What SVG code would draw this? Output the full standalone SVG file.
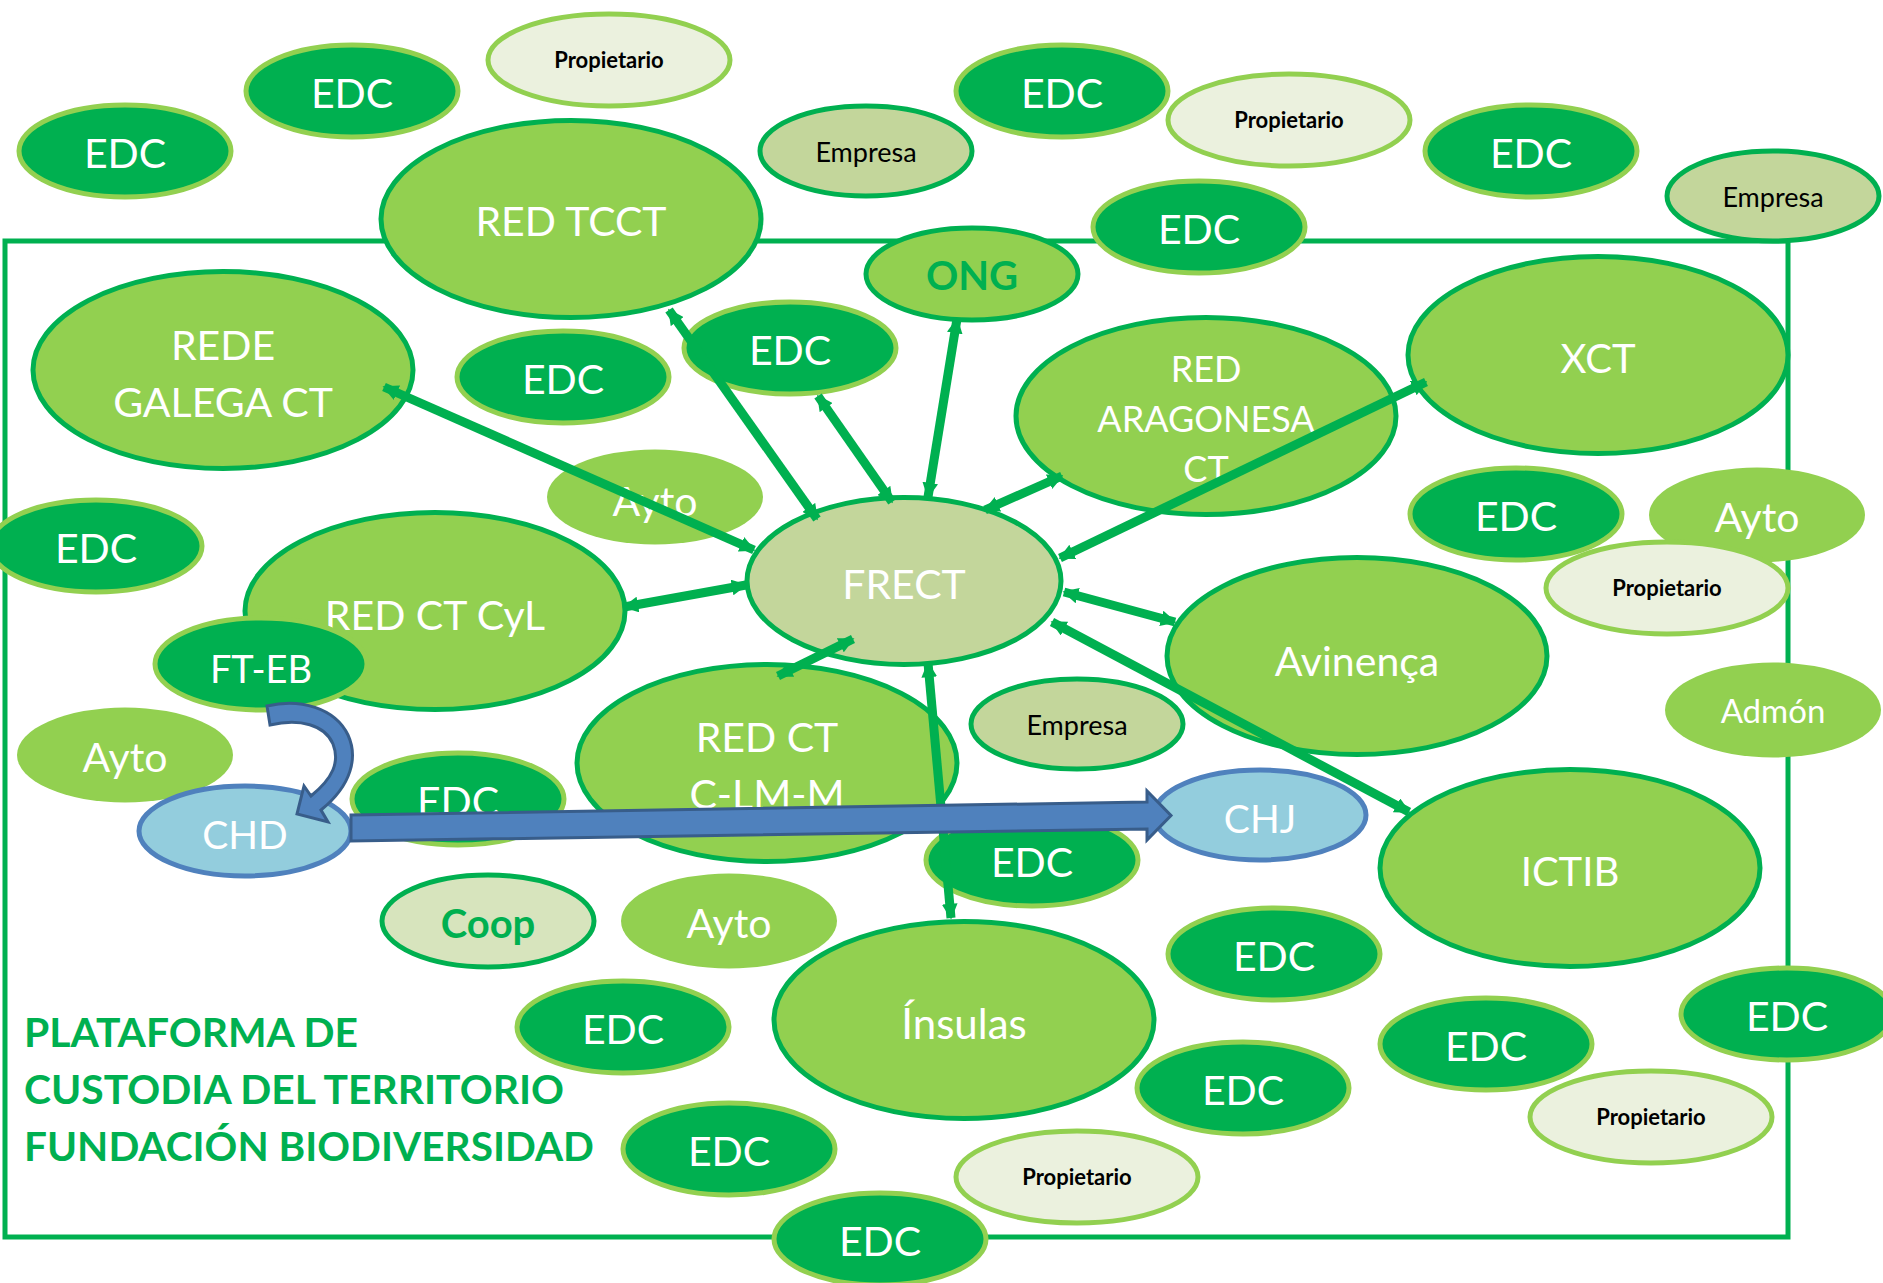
<svg xmlns="http://www.w3.org/2000/svg" width="1883" height="1283" viewBox="0 0 1883 1283">
<defs>
<style>
text{font-family:Lato,"Liberation Sans",sans-serif;text-anchor:middle}
.edc{fill:#00B050;stroke:#92D050;stroke-width:5}
.med{fill:#92D050;stroke:#00B050;stroke-width:5}
.ayto{fill:#92D050;stroke:none}
.prop{fill:#EBF1DE;stroke:#92D050;stroke-width:5}
.emp{fill:#C3D69B;stroke:#00B050;stroke-width:5}
.coop{fill:#D7E4BD;stroke:#00B050;stroke-width:5}
.ch{fill:#93CDDD;stroke:#4F81BD;stroke-width:5}
.w{fill:#FFFFFF;font-size:41px}
.wb{fill:#FFFFFF;font-size:40px}
.pk{fill:#000000;font-size:22px;font-weight:bold}
.ek{fill:#000000;font-size:27px}
.gb{fill:#00B050;font-size:40px;font-weight:bold}
.title{fill:#00B050;font-size:40px;font-weight:bold;text-anchor:start}
.lnk{stroke:#00B050;stroke-width:9;fill:none;marker-start:url(#ah);marker-end:url(#ah)}
.blue{fill:#4F81BD;stroke:#385D8A;stroke-width:3;stroke-linejoin:miter}
</style>
<marker id="ah" viewBox="0 0 10 10" refX="9" refY="5" markerUnits="strokeWidth" markerWidth="1.75" markerHeight="1.75" orient="auto-start-reverse">
<path d="M0,0 L10,5 L0,10 z" fill="#00B050"/>
</marker>
</defs>
<rect x="0" y="0" width="1883" height="1283" fill="#FFFFFF"/>
<rect id="frame" x="5" y="241" width="1783" height="996" fill="none" stroke="#00B050" stroke-width="5"/>

<g id="nodes">
<g id="edc-1"><ellipse class="edc" cx="125" cy="151" rx="106" ry="46"/><text class="w" x="125" y="168">EDC</text></g>
<g id="edc-2"><ellipse class="edc" cx="352" cy="91" rx="106" ry="46"/><text class="w" x="352" y="108">EDC</text></g>
<g id="prop-1"><ellipse class="prop" cx="609" cy="60" rx="121" ry="46"/><text class="pk" x="609" y="68">Propietario</text></g>
<g id="red-tcct"><ellipse class="med" cx="571" cy="219" rx="190" ry="98.5"/><text class="w" x="571" y="236">RED TCCT</text></g>
<g id="empresa-1"><ellipse class="emp" cx="866" cy="151" rx="106" ry="45"/><text class="ek" x="866" y="162">Empresa</text></g>
<g id="edc-3"><ellipse class="edc" cx="1062" cy="91" rx="106" ry="46"/><text class="w" x="1062" y="108">EDC</text></g>
<g id="prop-2"><ellipse class="prop" cx="1289" cy="120" rx="121" ry="46"/><text class="pk" x="1289" y="128">Propietario</text></g>
<g id="edc-4"><ellipse class="edc" cx="1199" cy="227" rx="106" ry="46"/><text class="w" x="1199" y="244">EDC</text></g>
<g id="ong"><ellipse class="med" cx="972" cy="274" rx="106" ry="46"/><text class="gb" x="972" y="290">ONG</text></g>
<g id="edc-5"><ellipse class="edc" cx="1531" cy="151" rx="106" ry="46"/><text class="w" x="1531" y="168">EDC</text></g>
<g id="empresa-2"><ellipse class="emp" cx="1773" cy="196" rx="106" ry="45"/><text class="ek" x="1773" y="207">Empresa</text></g>
<g id="rede-galega"><ellipse class="med" cx="223" cy="370" rx="190" ry="98.5"/><text class="w" x="223" y="360">REDE</text><text class="w" x="223" y="417">GALEGA CT</text></g>
<g id="edc-6"><ellipse class="edc" cx="563" cy="377" rx="106" ry="46"/><text class="w" x="563" y="394">EDC</text></g>
<g id="edc-7"><ellipse class="edc" cx="790" cy="348" rx="106" ry="46"/><text class="w" x="790" y="365">EDC</text></g>
<g id="red-aragonesa"><ellipse class="med" cx="1206" cy="416" rx="190" ry="98.5"/><text class="wb" x="1206" y="382" style="font-size:36px">RED</text><text class="wb" x="1206" y="432" style="font-size:36px">ARAGONESA</text><text class="wb" x="1206" y="482" style="font-size:36px">CT</text></g>
<g id="xct"><ellipse class="med" cx="1598" cy="355" rx="190" ry="98.5"/><text class="wb" x="1598" y="373">XCT</text></g>
<g id="ayto-1"><ellipse class="ayto" cx="655" cy="497" rx="108" ry="47.5"/><text class="w" x="655" y="516">Ayto</text></g>
<g id="edc-8"><ellipse class="edc" cx="96" cy="546" rx="106" ry="46"/><text class="w" x="96" y="563">EDC</text></g>
<g id="red-ct-cyl"><ellipse class="med" cx="435" cy="611" rx="190" ry="98.5"/><text class="w" x="435" y="630">RED CT CyL</text></g>
<g id="frect"><ellipse class="emp" cx="904" cy="581" rx="157" ry="83.5"/><text class="w" x="904" y="599">FRECT</text></g>
<g id="edc-9"><ellipse class="edc" cx="1516" cy="514" rx="106" ry="46"/><text class="w" x="1516" y="531">EDC</text></g>
<g id="ayto-2"><ellipse class="ayto" cx="1757" cy="515" rx="108" ry="47.5"/><text class="w" x="1757" y="532">Ayto</text></g>
<g id="prop-3"><ellipse class="prop" cx="1667" cy="588" rx="121" ry="46"/><text class="pk" x="1667" y="596">Propietario</text></g>
<g id="avinenca"><ellipse class="med" cx="1357" cy="656" rx="190" ry="98.5"/><text class="w" x="1357" y="676">Avinença</text></g>
<g id="admon"><ellipse class="ayto" cx="1773" cy="710" rx="108" ry="47.5"/><text class="w" x="1773" y="723" style="font-size:33px">Admón</text></g>
<g id="ft-eb"><ellipse class="edc" cx="261" cy="664" rx="106" ry="46"/><text class="wb" x="261" y="683" style="font-size:38px">FT-EB</text></g>
<g id="empresa-3"><ellipse class="emp" cx="1077" cy="724" rx="106" ry="45"/><text class="ek" x="1077" y="735">Empresa</text></g>
<g id="red-ct-clmm"><ellipse class="med" cx="767" cy="763" rx="190" ry="98.5"/><text class="w" x="767" y="752">RED CT</text><text class="w" x="767" y="809">C-LM-M</text></g>
<g id="ayto-3"><ellipse class="ayto" cx="125" cy="755" rx="108" ry="47.5"/><text class="w" x="125" y="772">Ayto</text></g>
<g id="edc-10"><ellipse class="edc" cx="458" cy="799" rx="106" ry="46"/><text class="w" x="458" y="816">EDC</text></g>
<g id="chd"><ellipse class="ch" cx="245" cy="831" rx="106" ry="45"/><text class="wb" x="245" y="849" style="font-size:39px">CHD</text></g>
<g id="chj"><ellipse class="ch" cx="1260" cy="815" rx="106" ry="45"/><text class="wb" x="1260" y="833" style="font-size:39px">CHJ</text></g>
<g id="ictib"><ellipse class="med" cx="1570" cy="868" rx="190" ry="98.5"/><text class="wb" x="1570" y="886">ICTIB</text></g>
<g id="edc-11"><ellipse class="edc" cx="1032" cy="860" rx="106" ry="46"/><text class="w" x="1032" y="877">EDC</text></g>
<g id="coop"><ellipse class="coop" cx="488" cy="921" rx="106" ry="46"/><text class="gb" x="488" y="938">Coop</text></g>
<g id="ayto-4"><ellipse class="ayto" cx="729" cy="921" rx="108" ry="47.5"/><text class="w" x="729" y="938">Ayto</text></g>
<g id="insulas"><ellipse class="med" cx="964" cy="1020" rx="190" ry="98.5"/><text class="w" x="964" y="1039" style="font-size:42px">Ínsulas</text></g>
<g id="edc-12"><ellipse class="edc" cx="1274" cy="954" rx="106" ry="46"/><text class="w" x="1274" y="971">EDC</text></g>
<g id="edc-13"><ellipse class="edc" cx="623" cy="1027" rx="106" ry="46"/><text class="w" x="623" y="1044">EDC</text></g>
<g id="edc-14"><ellipse class="edc" cx="1486" cy="1044" rx="106" ry="46"/><text class="w" x="1486" y="1061">EDC</text></g>
<g id="edc-15"><ellipse class="edc" cx="1787" cy="1014" rx="106" ry="46"/><text class="w" x="1787" y="1031">EDC</text></g>
<g id="edc-16"><ellipse class="edc" cx="1243" cy="1088" rx="106" ry="46"/><text class="w" x="1243" y="1105">EDC</text></g>
<g id="prop-4"><ellipse class="prop" cx="1651" cy="1117" rx="121" ry="46"/><text class="pk" x="1651" y="1125">Propietario</text></g>
<g id="edc-17"><ellipse class="edc" cx="729" cy="1149" rx="106" ry="46"/><text class="w" x="729" y="1166">EDC</text></g>
<g id="prop-5"><ellipse class="prop" cx="1077" cy="1177" rx="121" ry="46"/><text class="pk" x="1077" y="1185">Propietario</text></g>
<g id="edc-18"><ellipse class="edc" cx="880" cy="1239" rx="106" ry="46"/><text class="w" x="880" y="1256">EDC</text></g>
</g>

<g id="title">
<text class="title" x="24" y="1047" textLength="334" lengthAdjust="spacingAndGlyphs">PLATAFORMA DE</text>
<text class="title" x="24" y="1104" textLength="540" lengthAdjust="spacingAndGlyphs">CUSTODIA DEL TERRITORIO</text>
<text class="title" x="24" y="1161" textLength="570" lengthAdjust="spacingAndGlyphs">FUNDACIÓN BIODIVERSIDAD</text>
</g>

<g id="connectors">
<path class="lnk" d="M384,387 L754,550"/>
<path class="lnk" d="M669,310 L817,519"/>
<path class="lnk" d="M818,396 L892,502"/>
<path class="lnk" d="M957,319 L928,497"/>
<path class="lnk" d="M1062,476 L985,510"/>
<path class="lnk" d="M1426,382 L1060,558"/>
<path class="lnk" d="M624,607 L746,585"/>
<path class="lnk" d="M1175,622 L1064,592"/>
<path class="lnk" d="M1409,812 L1052,622"/>
<path class="lnk" d="M778,676 L853,639"/>
<path class="lnk" d="M951,918 L928,663"/>
<path class="blue" d="M267,706 C300,698 335,708 348,735 C358,757 352,785 321,810 L328,822 L297,814 L304,786 L311,796 C333,778 340,762 333,744 C325,725 300,718 270,725 Z"/>
<path class="blue" d="M351,815 L1147,802 L1147,791 L1171,815.5 L1147,840 L1147,829 L351,841 Z"/>
</g>
</svg>
